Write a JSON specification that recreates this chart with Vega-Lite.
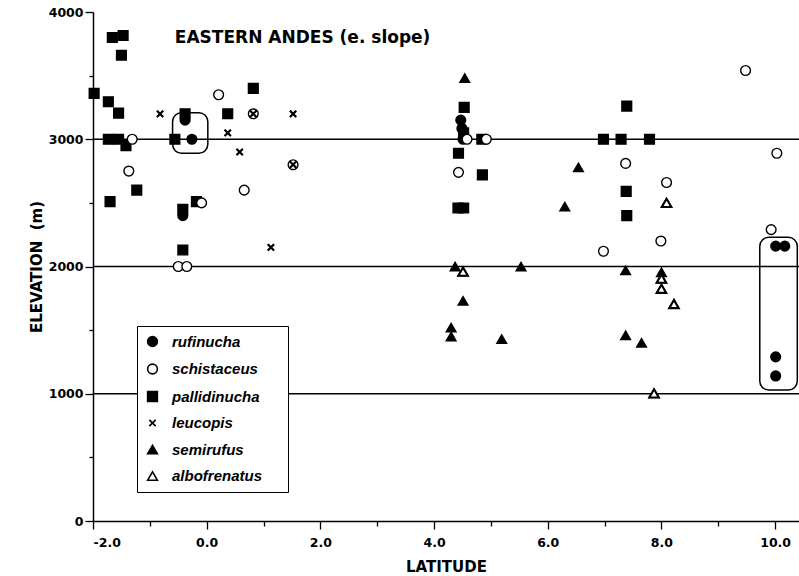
{
  "$schema": "https://vega.github.io/schema/vega-lite/v6.json",
  "width": 706,
  "height": 509,
  "autosize": {"type": "none"},
  "padding": {"left": 93, "top": 12, "right": 0, "bottom": 55},
  "background": "white",
  "config": {
    "view": {"stroke": null},
    "font": "Liberation Sans",
    "axis": {
      "labelFont": "DejaVu Sans",
      "labelFontWeight": "bold",
      "labelFontSize": 12.5,
      "labelColor": "black",
      "titleFont": "DejaVu Sans",
      "titleFontWeight": "bold",
      "titleFontSize": 15,
      "titleColor": "black",
      "domainColor": "black",
      "domainWidth": 1.5,
      "tickColor": "black",
      "tickWidth": 1.3,
      "grid": false
    }
  },
  "datasets": {
    "birds": [
      {"lat": -1.98, "elev": 3360, "sp": "pallidinucha"},
      {"lat": -1.66, "elev": 3800, "sp": "pallidinucha"},
      {"lat": -1.47, "elev": 3815, "sp": "pallidinucha"},
      {"lat": -1.5, "elev": 3660, "sp": "pallidinucha"},
      {"lat": -1.73, "elev": 3295, "sp": "pallidinucha"},
      {"lat": -1.55, "elev": 3205, "sp": "pallidinucha"},
      {"lat": -1.73, "elev": 3000, "sp": "pallidinucha"},
      {"lat": -1.55, "elev": 3000, "sp": "pallidinucha"},
      {"lat": -1.42, "elev": 2950, "sp": "pallidinucha"},
      {"lat": -1.23, "elev": 2600, "sp": "pallidinucha"},
      {"lat": -1.7, "elev": 2510, "sp": "pallidinucha"},
      {"lat": -0.38, "elev": 3200, "sp": "pallidinucha"},
      {"lat": -0.56, "elev": 3000, "sp": "pallidinucha"},
      {"lat": -0.42, "elev": 2450, "sp": "pallidinucha"},
      {"lat": -0.42, "elev": 2130, "sp": "pallidinucha"},
      {"lat": 0.37, "elev": 3200, "sp": "pallidinucha"},
      {"lat": 0.82, "elev": 3400, "sp": "pallidinucha"},
      {"lat": -0.18, "elev": 2510, "sp": "pallidinucha"},
      {"lat": 4.53, "elev": 3250, "sp": "pallidinucha"},
      {"lat": 4.52, "elev": 3050, "sp": "pallidinucha"},
      {"lat": 4.43, "elev": 2890, "sp": "pallidinucha"},
      {"lat": 4.85, "elev": 2720, "sp": "pallidinucha"},
      {"lat": 4.42, "elev": 2460, "sp": "pallidinucha"},
      {"lat": 4.52, "elev": 2460, "sp": "pallidinucha"},
      {"lat": 4.84, "elev": 3000, "sp": "pallidinucha"},
      {"lat": 7.39, "elev": 3260, "sp": "pallidinucha"},
      {"lat": 6.98, "elev": 3000, "sp": "pallidinucha"},
      {"lat": 7.29, "elev": 3000, "sp": "pallidinucha"},
      {"lat": 7.79, "elev": 3000, "sp": "pallidinucha"},
      {"lat": 7.38, "elev": 2590, "sp": "pallidinucha"},
      {"lat": 7.39, "elev": 2400, "sp": "pallidinucha"},
      {"lat": -0.38, "elev": 3150, "sp": "rufinucha"},
      {"lat": -0.26, "elev": 3000, "sp": "rufinucha"},
      {"lat": -0.42, "elev": 2400, "sp": "rufinucha"},
      {"lat": 4.47, "elev": 3150, "sp": "rufinucha"},
      {"lat": 4.49, "elev": 3085, "sp": "rufinucha"},
      {"lat": 4.51, "elev": 3000, "sp": "rufinucha"},
      {"lat": 10.01, "elev": 2160, "sp": "rufinucha"},
      {"lat": 10.17, "elev": 2160, "sp": "rufinucha"},
      {"lat": 10.01, "elev": 1290, "sp": "rufinucha"},
      {"lat": 10.01, "elev": 1140, "sp": "rufinucha"},
      {"lat": -1.31, "elev": 3000, "sp": "schistaceus"},
      {"lat": -1.37, "elev": 2750, "sp": "schistaceus"},
      {"lat": 0.21, "elev": 3350, "sp": "schistaceus"},
      {"lat": 0.66, "elev": 2600, "sp": "schistaceus"},
      {"lat": -0.09, "elev": 2500, "sp": "schistaceus"},
      {"lat": -0.5, "elev": 2000, "sp": "schistaceus"},
      {"lat": -0.35, "elev": 2000, "sp": "schistaceus"},
      {"lat": 0.82, "elev": 3200, "sp": "schistaceus"},
      {"lat": 1.52, "elev": 2800, "sp": "schistaceus"},
      {"lat": 4.43, "elev": 2740, "sp": "schistaceus"},
      {"lat": 4.58, "elev": 3000, "sp": "schistaceus"},
      {"lat": 4.92, "elev": 3000, "sp": "schistaceus"},
      {"lat": 9.48, "elev": 3540, "sp": "schistaceus"},
      {"lat": 10.03, "elev": 2890, "sp": "schistaceus"},
      {"lat": 7.37, "elev": 2810, "sp": "schistaceus"},
      {"lat": 8.09, "elev": 2660, "sp": "schistaceus"},
      {"lat": 7.99, "elev": 2200, "sp": "schistaceus"},
      {"lat": 9.93, "elev": 2290, "sp": "schistaceus"},
      {"lat": 6.98, "elev": 2120, "sp": "schistaceus"},
      {"lat": -0.82, "elev": 3200, "sp": "leucopis"},
      {"lat": 0.37, "elev": 3050, "sp": "leucopis"},
      {"lat": 0.58, "elev": 2900, "sp": "leucopis"},
      {"lat": 1.13, "elev": 2150, "sp": "leucopis"},
      {"lat": 1.52, "elev": 3200, "sp": "leucopis"},
      {"lat": 0.82, "elev": 3200, "sp": "leucopis"},
      {"lat": 1.52, "elev": 2800, "sp": "leucopis"},
      {"lat": 4.54, "elev": 3480, "sp": "semirufus"},
      {"lat": 4.37, "elev": 2000, "sp": "semirufus"},
      {"lat": 5.53, "elev": 2000, "sp": "semirufus"},
      {"lat": 4.51, "elev": 1730, "sp": "semirufus"},
      {"lat": 4.3, "elev": 1520, "sp": "semirufus"},
      {"lat": 4.3, "elev": 1450, "sp": "semirufus"},
      {"lat": 5.19, "elev": 1430, "sp": "semirufus"},
      {"lat": 6.54, "elev": 2780, "sp": "semirufus"},
      {"lat": 6.3, "elev": 2470, "sp": "semirufus"},
      {"lat": 7.37, "elev": 1970, "sp": "semirufus"},
      {"lat": 8.0, "elev": 1955, "sp": "semirufus"},
      {"lat": 7.37, "elev": 1460, "sp": "semirufus"},
      {"lat": 7.65, "elev": 1400, "sp": "semirufus"},
      {"lat": 4.51, "elev": 1960, "sp": "albofrenatus"},
      {"lat": 8.09, "elev": 2500, "sp": "albofrenatus"},
      {"lat": 8.0, "elev": 1905, "sp": "albofrenatus"},
      {"lat": 8.0, "elev": 1825, "sp": "albofrenatus"},
      {"lat": 8.22, "elev": 1705, "sp": "albofrenatus"},
      {"lat": 7.87, "elev": 1003, "sp": "albofrenatus"}
    ],
    "boxes": [
      {"lat1": -0.6, "lat2": 0.02, "elev1": 2889, "elev2": 3209},
      {"lat1": 9.73, "lat2": 10.39, "elev1": 1029, "elev2": 2229}
    ],
    "grid": [{"elev": 1000}, {"elev": 2000}, {"elev": 3000}],
    "label": [{"lat": -0.56, "elev": 3760, "t": "EASTERN ANDES (e. slope)"}]
  },
  "layer": [
    {
      "data": {"name": "grid"},
      "mark": {"type": "rule", "color": "black", "strokeWidth": 1.3},
      "encoding": {
        "y": {"field": "elev", "type": "quantitative", "scale": {"domain": [0, 4000], "nice": false}}
      }
    },
    {
      "data": {"name": "boxes"},
      "mark": {"type": "rect", "fill": null, "fillOpacity": 0, "stroke": "black", "strokeWidth": 1.5, "cornerRadius": 9},
      "encoding": {
        "x": {"field": "lat1", "type": "quantitative"},
        "x2": {"field": "lat2"},
        "y": {"field": "elev1", "type": "quantitative"},
        "y2": {"field": "elev2"}
      }
    },
    {
      "data": {"name": "birds"},
      "mark": {"type": "point", "filled": true, "stroke": "black", "strokeWidth": 1.4, "opacity": 1},
      "encoding": {
        "x": {
          "field": "lat", "type": "quantitative",
          "scale": {"domain": [-2, 10.42], "nice": false, "zero": false},
          "axis": {
            "title": "LATITUDE",
            "values": [-2, -1, 0, 1, 2, 3, 4, 5, 6, 7, 8, 9, 10],
            "labelExpr": "datum.value % 2 == 0 ? datum.value + '.0' : ''",
            "tickSize": {"condition": {"test": "datum.value % 2 == 0", "value": 8}, "value": 5},
            "labelPadding": 7,
            "titlePadding": 11
          }
        },
        "y": {
          "field": "elev", "type": "quantitative",
          "scale": {"domain": [0, 4000], "nice": false},
          "axis": {
            "title": "ELEVATION\u00a0\u00a0(m)",
            "values": [0, 500, 1000, 1500, 2000, 2500, 3000, 3500, 4000],
            "labelExpr": "datum.value % 1000 == 0 ? '' + datum.value : ''",
            "tickSize": {"condition": {"test": "datum.value % 1000 == 0", "value": 8}, "value": 4},
            "labelPadding": 2,
            "titlePadding": 4
          }
        },
        "shape": {
          "field": "sp", "type": "nominal",
          "scale": {
            "domain": ["rufinucha", "schistaceus", "pallidinucha", "leucopis", "semirufus", "albofrenatus"],
            "range": ["circle", "circle", "square", "M-0.65,-0.65L0.65,0.65M-0.65,0.65L0.65,-0.65", "triangle-up", "triangle-up"]
          },
          "legend": {
            "title": "\u00a0",
            "titleOrient": "right",
            "titlePadding": 18,
            "orient": "none",
            "legendX": 44,
            "legendY": 314,
            "padding": 8,
            "rowPadding": 10.5,
            "labelFont": "Liberation Sans",
            "labelFontSize": 15,
            "labelFontWeight": "bold",
            "labelFontStyle": "italic",
            "labelColor": "black",
            "labelOffset": 12,
            "strokeColor": "black",
            "fillColor": "white",
            "symbolStrokeColor": "black",
            "symbolStrokeWidth": 1.6
          }
        },
        "fill": {
          "field": "sp", "type": "nominal",
          "scale": {
            "domain": ["rufinucha", "schistaceus", "pallidinucha", "leucopis", "semirufus", "albofrenatus"],
            "range": ["black", "white", "black", "black", "black", "white"]
          }
        },
        "size": {
          "field": "sp", "type": "nominal",
          "scale": {
            "domain": ["rufinucha", "schistaceus", "pallidinucha", "leucopis", "semirufus", "albofrenatus"],
            "range": [95, 95]
          }
        }
      }
    },
    {
      "data": {"name": "birds"},
      "transform": [{"filter": "datum.sp == 'leucopis' || datum.sp == 'albofrenatus'"}],
      "mark": {"type": "point", "filled": true, "stroke": "black", "strokeWidth": 2.1, "opacity": 1, "size": 90},
      "encoding": {
        "x": {"field": "lat", "type": "quantitative"},
        "y": {"field": "elev", "type": "quantitative"},
        "shape": {"field": "sp", "type": "nominal", "legend": null},
        "fill": {"field": "sp", "type": "nominal", "legend": null}
      }
    },
    {
      "data": {"name": "label"},
      "mark": {"type": "text", "align": "left", "baseline": "alphabetic", "font": "DejaVu Sans", "fontWeight": "bold", "fontSize": 17, "color": "black"},
      "encoding": {
        "x": {"field": "lat", "type": "quantitative"},
        "y": {"field": "elev", "type": "quantitative"},
        "text": {"field": "t"}
      }
    }
  ]
}
